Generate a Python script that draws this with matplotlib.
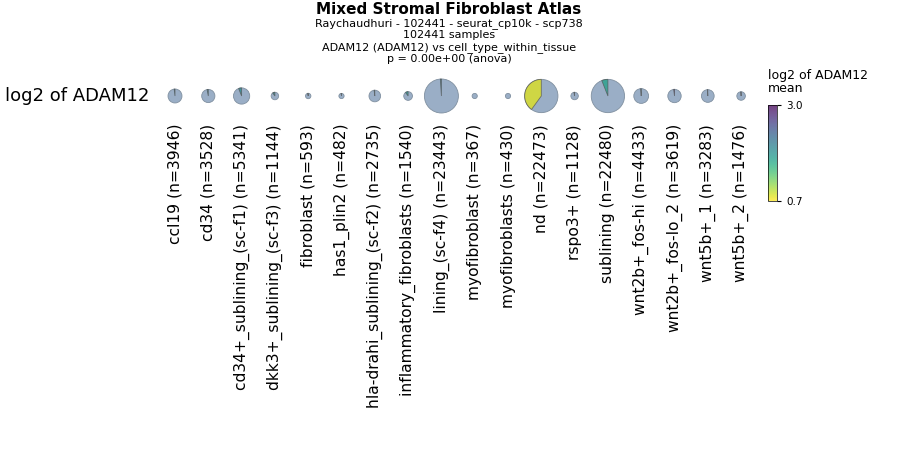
import numpy as np
import matplotlib
matplotlib.use('Agg')
import matplotlib.pyplot as plt
from matplotlib.patches import Wedge, Circle
from matplotlib.colors import Normalize
from matplotlib import cm

cats = ['ccl19', 'cd34', 'cd34+_sublining_(sc-f1)', 'dkk3+_sublining_(sc-f3)', 'fibroblast',
        'has1_plin2', 'hla-drahi_sublining_(sc-f2)', 'inflammatory_fibroblasts', 'lining_(sc-f4)',
        'myofibroblast', 'myofibroblasts', 'nd', 'rspo3+', 'sublining', 'wnt2b+_fos-hi',
        'wnt2b+_fos-lo_2', 'wnt5b+_1', 'wnt5b+_2']
counts = [3946, 3528, 5341, 1144, 593, 482, 2735, 1540, 23443, 367, 430, 22473, 1128, 22480,
          4433, 3619, 3283, 1476]
frac = [0.02, 0.03, 0.06, 0.10, 0.03, 0.03, 0.02, 0.10, 0.01, 0.0, 0.0, 0.40, 0.03, 0.06,
        0.01, 0.02, 0.01, 0.01]
means = [2.0, 2.0, 1.9, 1.9, 2.0, 2.0, 2.0, 1.8, 2.0, 2.0, 2.0, 0.8, 2.1, 1.7, 2.0, 2.8, 2.3, 2.2]
vmin, vmax = 0.7, 3.0

fig = plt.figure(figsize=(8.98, 4.63), dpi=100)
ax = fig.add_axes([0, 0, 1, 1])
ax.set_xlim(0, 898)
ax.set_ylim(463, 0)
ax.set_aspect('equal')
ax.axis('off')

cmap = matplotlib.colormaps['viridis_r']
norm = Normalize(vmin, vmax)
base = '#9aaec6'
rmax = 17
for i, (c, n, f, m) in enumerate(zip(cats, counts, frac, means)):
    x, y = 175 + i * 33.3, 96
    r = max(2.6, rmax * np.sqrt(n / max(counts)))
    ax.add_patch(Circle((x, y), r, facecolor=base, edgecolor='#8090a0', lw=0.6))
    if f > 0:
        ax.add_patch(Wedge((x, y), r, 270 - 360 * f, 270, facecolor=cmap(norm(m)),
                           alpha=0.75, edgecolor='#555555', lw=0.6))
    ax.text(x, 124, f'{c} (n={n})', rotation=90, ha='center', va='top', fontsize=11.2)

ax.text(5, 96, 'log2 of ADAM12', ha='left', va='center', fontsize=13)
ax.text(449, 2, 'Mixed Stromal Fibroblast Atlas', ha='center', va='top', fontsize=11, fontweight='bold')
sub = ['Raychaudhuri - 102441 - seurat_cp10k - scp738', '102441 samples',
       'ADAM12 (ADAM12) vs cell_type_within_tissue', 'p = 0.00e+00 (anova)']
for k, s in enumerate(sub):
    ax.text(449, 18 + k * 12, s, ha='center', va='top', fontsize=8)

cax = fig.add_axes([768 / 898, 1 - 201 / 463, 9 / 898, 96 / 463])
cb = fig.colorbar(cm.ScalarMappable(norm=norm, cmap=cmap), cax=cax)
cb.solids.set_alpha(0.75)
cb.set_ticks([0.7, 3.0])
cb.ax.tick_params(labelsize=7.5, length=3)
cb.outline.set_linewidth(0.5)
fig.text(768 / 898, 1 - 69 / 463, 'log2 of ADAM12\nmean', ha='left', va='top', fontsize=9, linespacing=0.95)

fig.savefig('out.png', dpi=100)
